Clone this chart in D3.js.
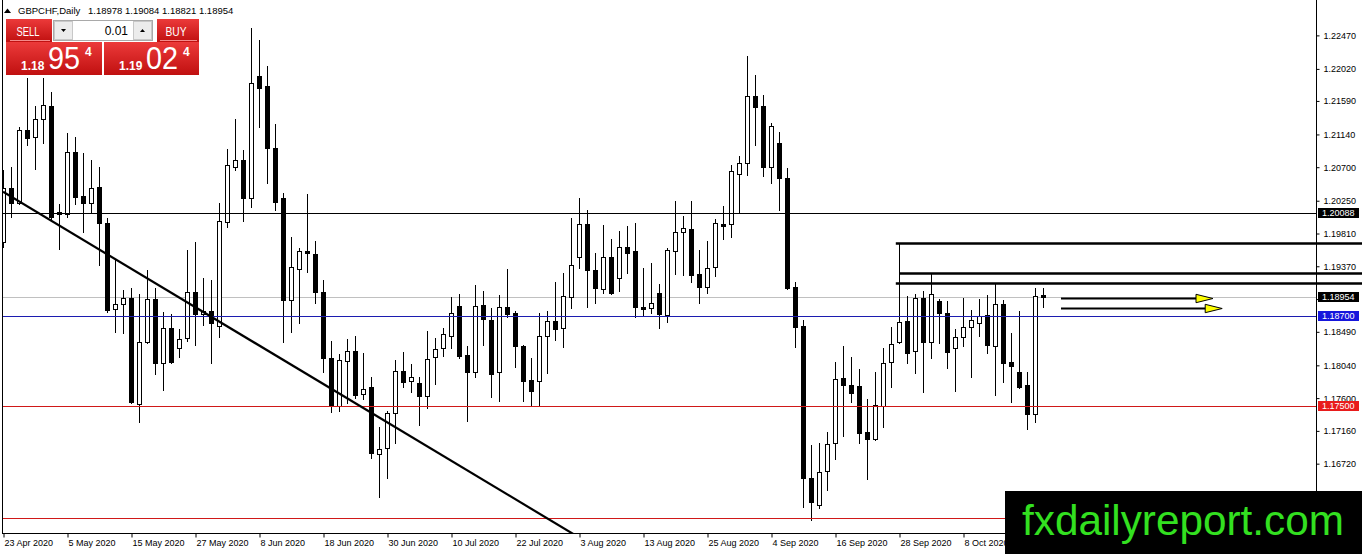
<!DOCTYPE html>
<html>
<head>
<meta charset="utf-8">
<script src="https://cdn.jsdelivr.net/npm/d3@7"></script>
<style>
  html, body { margin: 0; padding: 0; background: #fff; }
  svg { display: block; font-family: "Liberation Sans", Arial, sans-serif; }
</style>
</head>
<body>
<svg id="chart" width="1362" height="554"></svg>
<script>
// GBPCHF daily candles, 23 Apr 2020 .. 22 Oct 2020 (one value per trading day)
const open = [
  1.19700, 1.20417, 1.20224, 1.21199, 1.21101, 1.21343, 1.21521, 1.20095, 1.20068, 1.20900,
  1.20313, 1.20216, 1.20434, 1.19947, 1.18792, 1.18859, 1.18945, 1.17521, 1.18357, 1.18931,
  1.18067, 1.18537, 1.18269, 1.18403, 1.19029, 1.18725, 1.18769, 1.18568, 1.19969, 1.20706,
  1.20796, 1.20292, 1.21925, 1.21790, 1.20954, 1.20282, 1.18917, 1.19330, 1.19575, 1.19535,
  1.19025, 1.18134, 1.17498, 1.18098, 1.18232, 1.17651, 1.17745, 1.16850, 1.16927, 1.17396,
  1.17964, 1.17830, 1.17799, 1.17632, 1.18148, 1.18269, 1.18438, 1.18836, 1.18179, 1.17954,
  1.18846, 1.18648, 1.17946, 1.18819, 1.18738, 1.18299, 1.17843, 1.17834, 1.18438, 1.18635,
  1.18537, 1.18962, 1.19491, 1.19938, 1.19320, 1.19061, 1.19491, 1.19209, 1.19633, 1.19575,
  1.18827, 1.18806, 1.19012, 1.18716, 1.19579, 1.19834, 1.19867, 1.19266, 1.19092, 1.19364,
  1.19938, 1.19938, 1.20608, 1.20752, 1.21656, 1.21521, 1.20706, 1.21021, 1.20551, 1.19092,
  1.18568, 1.16528, 1.16165, 1.16626, 1.16994, 1.17866, 1.17776, 1.17762, 1.17141, 1.17047,
  1.17498, 1.18081, 1.18357, 1.18635, 1.18236, 1.18945, 1.18357, 1.18904, 1.18738, 1.18269,
  1.18424, 1.18559, 1.18612, 1.18716, 1.18303, 1.18863, 1.18081, 1.17946, 1.17776, 1.17383,
  1.18978
];
const high = [
  1.20662, 1.20706, 1.21235, 1.21894, 1.21521, 1.21894, 1.21714, 1.20206, 1.21155, 1.21101,
  1.20894, 1.20796, 1.20698, 1.20014, 1.19454, 1.19052, 1.19075, 1.18998, 1.19320, 1.19075,
  1.18760, 1.18729, 1.18524, 1.19589, 1.19700, 1.19209, 1.19186, 1.20224, 1.20940, 1.21343,
  1.20931, 1.22565, 1.22408, 1.22059, 1.21280, 1.20353, 1.19767, 1.19612, 1.20340, 1.19714,
  1.19186, 1.18366, 1.18188, 1.18393, 1.18434, 1.18210, 1.17879, 1.17208, 1.17427, 1.18111,
  1.18215, 1.18058, 1.17888, 1.18501, 1.18403, 1.18537, 1.18962, 1.18998, 1.18303, 1.19119,
  1.19039, 1.18814, 1.18985, 1.19330, 1.18769, 1.18310, 1.18134, 1.18738, 1.18769, 1.19163,
  1.19276, 1.20022, 1.20286, 1.20126, 1.19544, 1.19924, 1.19732, 1.19848, 1.19911, 1.19947,
  1.19343, 1.19418, 1.19128, 1.19612, 1.20247, 1.20045, 1.20247, 1.19589, 1.19709, 1.20005,
  1.20179, 1.20729, 1.20850, 1.22193, 1.21938, 1.21670, 1.21297, 1.21176, 1.20685, 1.19163,
  1.18648, 1.16971, 1.17002, 1.17149, 1.18081, 1.18299, 1.18148, 1.17987, 1.17584, 1.17954,
  1.18269, 1.18550, 1.19679, 1.18971, 1.18998, 1.19042, 1.19276, 1.18931, 1.18908, 1.18524,
  1.18945, 1.18783, 1.18931, 1.18985, 1.19146, 1.18917, 1.18478, 1.18769, 1.17954, 1.19075,
  1.19084
];
const low = [
  1.19633, 1.20036, 1.20210, 1.20998, 1.20672, 1.21029, 1.19991, 1.19602, 1.20036, 1.20206,
  1.19834, 1.20084, 1.19387, 1.18760, 1.18491, 1.18478, 1.17531, 1.17284, 1.18336, 1.17923,
  1.17709, 1.18067, 1.18156, 1.18371, 1.18313, 1.18581, 1.18075, 1.18424, 1.19902, 1.20662,
  1.19982, 1.20170, 1.21235, 1.20492, 1.20126, 1.18357, 1.18491, 1.18604, 1.19297, 1.18881,
  1.17954, 1.17418, 1.17431, 1.17539, 1.17597, 1.17584, 1.16792, 1.16269, 1.16528, 1.17002,
  1.17745, 1.17682, 1.17239, 1.17464, 1.17785, 1.18165, 1.18269, 1.18134, 1.17293, 1.17888,
  1.18313, 1.17615, 1.17566, 1.18685, 1.18021, 1.17566, 1.17494, 1.17494, 1.17941, 1.18380,
  1.18290, 1.18806, 1.19343, 1.18819, 1.18873, 1.19015, 1.18995, 1.19042, 1.19276, 1.18685,
  1.18716, 1.18738, 1.18537, 1.18626, 1.19263, 1.19253, 1.19163, 1.18881, 1.19015, 1.19240,
  1.19736, 1.19767, 1.20084, 1.20595, 1.20998, 1.20582, 1.20492, 1.20126, 1.19060, 1.18282,
  1.16142, 1.15963, 1.16121, 1.16367, 1.16779, 1.17092, 1.17552, 1.16994, 1.16514, 1.17038,
  1.17208, 1.17753, 1.18344, 1.18067, 1.17941, 1.17682, 1.18142, 1.18336, 1.18000, 1.17699,
  1.18299, 1.17888, 1.18434, 1.18210, 1.17642, 1.17820, 1.17552, 1.17736, 1.17186, 1.17284,
  1.18821
];
const close = [
  1.20417, 1.20224, 1.21199, 1.21088, 1.21343, 1.21535, 1.20036, 1.20068, 1.20900, 1.20300,
  1.20224, 1.20417, 1.19947, 1.18783, 1.18859, 1.18945, 1.17552, 1.18357, 1.18931, 1.18067,
  1.18537, 1.18089, 1.18389, 1.19029, 1.18725, 1.18769, 1.18604, 1.19978, 1.20729, 1.20796,
  1.20292, 1.21827, 1.21768, 1.20954, 1.20237, 1.18917, 1.19356, 1.19575, 1.19544, 1.19029,
  1.18142, 1.17508, 1.18111, 1.18232, 1.17642, 1.17718, 1.16859, 1.16913, 1.17396, 1.17964,
  1.17812, 1.17888, 1.17632, 1.18121, 1.18255, 1.18461, 1.18738, 1.18165, 1.17954, 1.18836,
  1.18658, 1.17919, 1.18819, 1.18729, 1.18303, 1.17834, 1.17699, 1.18434, 1.18635, 1.18528,
  1.18971, 1.19387, 1.19938, 1.19320, 1.19075, 1.19491, 1.19007, 1.19633, 1.19552, 1.18819,
  1.18800, 1.18881, 1.18729, 1.19589, 1.19834, 1.19880, 1.19253, 1.19092, 1.19343, 1.19947,
  1.19915, 1.20653, 1.20752, 1.21656, 1.21512, 1.20706, 1.21253, 1.20551, 1.19075, 1.18559,
  1.16528, 1.16209, 1.16612, 1.16984, 1.17852, 1.17776, 1.17664, 1.17136, 1.17047, 1.17508,
  1.18067, 1.18322, 1.18618, 1.18210, 1.18945, 1.18357, 1.18994, 1.18738, 1.18223, 1.18424,
  1.18559, 1.18648, 1.18702, 1.18313, 1.18859, 1.18067, 1.18035, 1.17753, 1.17383, 1.18975,
  1.18954
];

// time axis labels, one every 8 bars (the next one sits under the watermark)
const dateTickBars = [0, 8, 16, 24, 32, 40, 48, 56, 64, 72, 80, 88, 96, 104, 112, 120];
const dateTickLabels = ['23 Apr 2020', '5 May 2020', '15 May 2020', '27 May 2020', '8 Jun 2020',
  '18 Jun 2020', '30 Jun 2020', '10 Jul 2020', '22 Jul 2020', '3 Aug 2020', '13 Aug 2020',
  '25 Aug 2020', '4 Sep 2020', '16 Sep 2020', '28 Sep 2020', '8 Oct 2020'];

// price axis labels
const priceTicks = [1.22470, 1.22020, 1.21590, 1.21140, 1.20700, 1.20250, 1.19810, 1.19370,
  1.18930, 1.18490, 1.18040, 1.17600, 1.17160, 1.16720];

// horizontal lines (price, colour of the line / its price tag)
const hLinePrices = [1.20088, 1.18954, 1.18700, 1.17500, 1.15990];
const hLineColors = ['#000000', '#c0c0c0', '#1c1cb0', '#d01818', '#d01818'];
const tagPrices = [1.20088, 1.18954, 1.18700, 1.17500];
const tagColors = ['#000000', '#000000', '#1616dc', '#e81c1c'];

// thick resistance lines: price and the bar they start from
const levelPrices = [1.19679, 1.19276, 1.19146];
const levelStartBars = [111.6, 112, 111.6];

// falling trend line (bar, price)
const trendBars = [0, 80];
const trendPrices = [1.20370, 1.15214];

// projection arrows: price, start bar, tip bar
const arrowPrices = [1.18940, 1.18814];
const arrowStartBars = [132.25, 132.25];
const arrowTipBars = [151.25, 152.4];

const header = { symbol: 'GBPCHF,Daily', ohlc: '1.18978 1.19084 1.18821 1.18954' };

const svg = d3.select('#chart');
const W = 1362;
const left = 2, right = 1316, bottom = 533;

const x = d3.scaleLinear().domain([0, 130]).range([3, 1043]);
const y = d3.scaleLinear().domain([1.22945, 1.15789]).range([0, bottom]);

const defs = svg.append('defs');
defs.append('clipPath').attr('id', 'plot')
  .append('rect').attr('x', left + 1).attr('y', 0).attr('width', right - left - 1).attr('height', bottom);
const grad = defs.append('linearGradient').attr('id', 'red').attr('x1', 0).attr('y1', 0).attr('x2', 0).attr('y2', 1);
grad.append('stop').attr('offset', '0%').attr('stop-color', '#ec3a3a');
grad.append('stop').attr('offset', '100%').attr('stop-color', '#c01010');

const plot = svg.append('g').attr('clip-path', 'url(#plot)');

// bid line sits behind the candles
plot.append('line')
  .attr('x1', left).attr('x2', right)
  .attr('y1', Math.round(y(hLinePrices[1])) + 0.5).attr('y2', Math.round(y(hLinePrices[1])) + 0.5)
  .attr('stroke', hLineColors[1]).attr('stroke-width', 1);

// candles
const bars = d3.range(open.length).map((i) => ({ i, o: open[i], h: high[i], l: low[i], c: close[i] }));

const candle = plot.selectAll('g.candle').data(bars).enter().append('g').attr('class', 'candle');

candle.append('line')
  .attr('x1', (d) => x(d.i) + 0.5).attr('x2', (d) => x(d.i) + 0.5)
  .attr('y1', (d) => Math.round(y(d.h))).attr('y2', (d) => Math.round(y(d.l)) + 1)
  .attr('stroke', '#000').attr('stroke-width', 1);

candle.append('rect')
  .attr('shape-rendering', 'crispEdges')
  .attr('x', (d) => (d.c >= d.o ? x(d.i) - 1.5 : x(d.i) - 2))
  .attr('width', (d) => (d.c >= d.o ? 4 : 5))
  .attr('y', (d) => {
    const t = Math.round(y(Math.max(d.o, d.c)));
    return d.c >= d.o ? t + 0.5 : t;
  })
  .attr('height', (d) => {
    const h = Math.round(y(Math.min(d.o, d.c))) - Math.round(y(Math.max(d.o, d.c)));
    return d.c >= d.o ? Math.max(h, 1) : Math.max(h + 1, 2);
  })
  .attr('fill', (d) => (d.c >= d.o ? '#fff' : '#000'))
  .attr('stroke', (d) => (d.c >= d.o ? '#000' : 'none'))
  .attr('stroke-width', 1);

// other horizontal lines
[0, 2, 3, 4].forEach((k) => {
  const yy = Math.round(y(hLinePrices[k])) + 0.5;
  plot.append('line')
    .attr('x1', left).attr('x2', right).attr('y1', yy).attr('y2', yy)
    .attr('stroke', hLineColors[k]).attr('stroke-width', 1);
});

// trend line
plot.append('line')
  .attr('x1', x(trendBars[0])).attr('y1', y(trendPrices[0]))
  .attr('x2', x(trendBars[1])).attr('y2', y(trendPrices[1]))
  .attr('stroke', '#000').attr('stroke-width', 2.2);

// thick levels run out past the price scale
levelPrices.forEach((p, k) => {
  svg.append('line')
    .attr('x1', x(levelStartBars[k])).attr('x2', W)
    .attr('y1', Math.round(y(p)) + 0.5).attr('y2', Math.round(y(p)) + 0.5)
    .attr('stroke', '#000').attr('stroke-width', 2.4);
});

// arrows
arrowPrices.forEach((p, k) => {
  const yy = Math.round(y(p)) + 0.5;
  const tip = x(arrowTipBars[k]);
  svg.append('line')
    .attr('x1', x(arrowStartBars[k])).attr('x2', tip - 15)
    .attr('y1', yy).attr('y2', yy)
    .attr('stroke', '#000').attr('stroke-width', 2.2);
  svg.append('path')
    .attr('d', `M${tip - 17},${yy - 4.2}L${tip},${yy}L${tip - 17},${yy + 4.2}Z`)
    .attr('fill', '#ffff00').attr('stroke', '#000').attr('stroke-width', 1);
});

// frame
svg.append('line').attr('x1', left + 0.5).attr('x2', left + 0.5).attr('y1', 0).attr('y2', bottom + 0.5)
  .attr('stroke', '#000');
svg.append('line').attr('x1', left).attr('x2', right).attr('y1', bottom + 0.5).attr('y2', bottom + 0.5)
  .attr('stroke', '#000');

// price axis
const yAxis = svg.append('g')
  .attr('transform', `translate(${right + 0.5},0)`)
  .call(d3.axisRight(y).tickValues(priceTicks).tickFormat(d3.format('.5f')).tickSize(3).tickSizeOuter(0).tickPadding(4));
yAxis.select('.domain').attr('stroke', '#000').attr('d', `M0,0V${bottom + 0.5}`);
yAxis.selectAll('line').attr('stroke', '#000');
yAxis.selectAll('text').attr('font-size', 9).attr('fill', '#000')
  .attr('font-family', '"Liberation Sans", Arial, sans-serif');

// time axis
const xAxis = svg.append('g')
  .attr('transform', `translate(0,${bottom + 0.5})`)
  .call(d3.axisBottom(x).tickValues(dateTickBars)
    .tickFormat((d, i) => dateTickLabels[i]).tickSize(4).tickSizeOuter(0).tickPadding(2));
xAxis.select('.domain').remove();
xAxis.selectAll('.tick line').attr('stroke', '#000').attr('transform', 'translate(0.5,0)');
xAxis.selectAll('text').attr('font-size', 9).attr('fill', '#000').attr('text-anchor', 'start')
  .attr('x', 1).attr('font-family', '"Liberation Sans", Arial, sans-serif');

// price tags on the scale
tagPrices.forEach((p, k) => {
  const yy = Math.round(y(p));
  svg.append('rect').attr('x', right + 2).attr('y', yy - 5).attr('width', 41).attr('height', 10)
    .attr('fill', tagColors[k]);
  svg.append('text').attr('x', right + 6).attr('y', yy + 3.3)
    .attr('font-size', 9).attr('fill', '#fff').text(d3.format('.5f')(p));
});

// header
svg.append('path').attr('d', 'M4,13L7.5,8.5L11,13Z').attr('fill', '#000');
svg.append('text').attr('x', 18).attr('y', 14).attr('font-size', 9.5).attr('fill', '#000')
  .text(header.symbol);
svg.append('text').attr('x', 88).attr('y', 14).attr('font-size', 9.5).attr('fill', '#000')
  .text(header.ohlc);

// one-click trading panel
const panel = svg.append('g');
panel.append('rect').attr('x', 6).attr('y', 19).attr('width', 46).attr('height', 23).attr('fill', 'url(#red)');
panel.append('line').attr('x1', 10).attr('x2', 50).attr('y1', 40.5).attr('y2', 40.5).attr('stroke', '#f48a8a');
panel.append('text').attr('x', 16.5).attr('y', 35.5).attr('font-size', 13).attr('fill', '#fff')
  .attr('textLength', 23).attr('lengthAdjust', 'spacingAndGlyphs').text('SELL');

panel.append('rect').attr('x', 157).attr('y', 19).attr('width', 42).attr('height', 23).attr('fill', 'url(#red)');
panel.append('line').attr('x1', 160).attr('x2', 197).attr('y1', 40.5).attr('y2', 40.5).attr('stroke', '#f48a8a');
panel.append('text').attr('x', 165.5).attr('y', 35.5).attr('font-size', 13).attr('fill', '#fff')
  .attr('textLength', 21).attr('lengthAdjust', 'spacingAndGlyphs').text('BUY');

panel.append('rect').attr('x', 53.5).attr('y', 20.5).attr('width', 99).attr('height', 20)
  .attr('fill', '#fff').attr('stroke', '#a9a9a9');
panel.append('rect').attr('x', 54.5).attr('y', 21.5).attr('width', 18).attr('height', 18)
  .attr('fill', '#ececec').attr('stroke', '#c8c8c8');
panel.append('rect').attr('x', 133.5).attr('y', 21.5).attr('width', 18).attr('height', 18)
  .attr('fill', '#ececec').attr('stroke', '#c8c8c8');
panel.append('path').attr('d', 'M61,29L66,29L63.5,32Z').attr('fill', '#000');
panel.append('path').attr('d', 'M140,32L145,32L142.5,29Z').attr('fill', '#000');
panel.append('text').attr('x', 128).attr('y', 35).attr('font-size', 12).attr('fill', '#000')
  .attr('text-anchor', 'end').text('0.01');

panel.append('rect').attr('x', 6).attr('y', 42).attr('width', 96).attr('height', 33).attr('fill', 'url(#red)');
panel.append('rect').attr('x', 104).attr('y', 42).attr('width', 95).attr('height', 33).attr('fill', 'url(#red)');

const quote = (x0, big, small, sup) => {
  panel.append('text').attr('x', x0).attr('y', 69.5).attr('font-size', 12).attr('font-weight', 'bold')
    .attr('fill', '#fff').text(big);
  panel.append('text').attr('x', x0 + 27).attr('y', 68.5).attr('font-size', 32).attr('fill', '#fff')
    .attr('textLength', 32).attr('lengthAdjust', 'spacingAndGlyphs').text(small);
  panel.append('text').attr('x', x0 + 64).attr('y', 56).attr('font-size', 12).attr('font-weight', 'bold')
    .attr('fill', '#fff').text(sup);
};
quote(21, '1.18', '95', '4');
quote(119, '1.19', '02', '4');

// watermark box
svg.append('rect').attr('x', 1005).attr('y', 491).attr('width', W - 1005).attr('height', 554 - 491)
  .attr('fill', '#000');
svg.append('text').attr('x', 1022).attr('y', 535).attr('font-size', 43).attr('fill', '#33e020')
  .attr('textLength', 322).attr('lengthAdjust', 'spacingAndGlyphs').text('fxdailyreport.com');
</script>
</body>
</html>
